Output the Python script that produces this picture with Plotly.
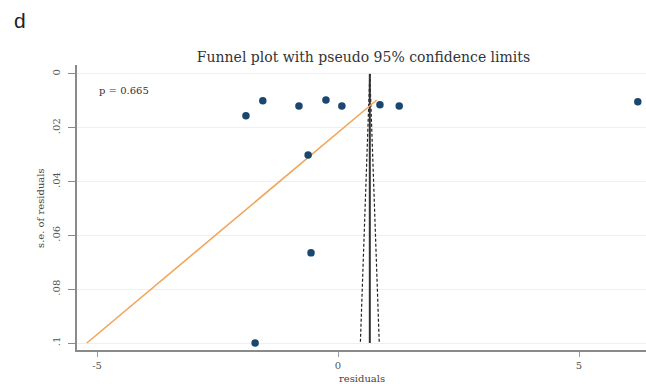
import plotly.graph_objects as go

# Study residuals and their standard errors
residuals = [-1.91, -1.56, -0.81, -0.25, 0.08, 0.87, 1.27, 6.22, -0.62, -0.56, -1.72]
se_residuals = [0.0156, 0.0100, 0.0119, 0.0097, 0.0119, 0.0115, 0.0119, 0.0104, 0.0301, 0.0665, 0.1000]

# Pooled estimate and Egger regression line (x = intercept + slope * se)
pooled = 0.66
egger_intercept = 1.45
egger_slope = -66.6
p_value = "0.665"

x_ticks = [-5, 0, 5]
x_ticktext = ["-5", "0", "5"]
y_ticks = [0, 0.02, 0.04, 0.06, 0.08, 0.1]
y_ticktext = ["0", ".02", ".04", ".06", ".08", ".1"]

SERIF = "DejaVu Serif"
se_max = max(se_residuals)
se_min = min(se_residuals)

fig = go.Figure()

# pseudo 95% confidence limits
se_line = [0, se_max]
fig.add_trace(go.Scatter(
    x=[pooled - 1.96 * s for s in se_line], y=se_line, mode="lines",
    line=dict(color="#222222", width=1.2, dash="3px,2px"), hoverinfo="skip"))
fig.add_trace(go.Scatter(
    x=[pooled + 1.96 * s for s in se_line], y=se_line, mode="lines",
    line=dict(color="#222222", width=1.2, dash="3px,2px"), hoverinfo="skip"))
# pooled estimate
fig.add_trace(go.Scatter(
    x=[pooled, pooled], y=se_line, mode="lines",
    line=dict(color="#333333", width=2), hoverinfo="skip"))
# Egger line
egger_se = [se_min, se_max]
fig.add_trace(go.Scatter(
    x=[egger_intercept + egger_slope * s for s in egger_se], y=egger_se, mode="lines",
    line=dict(color="#f2a55a", width=1.6), hoverinfo="skip"))
# studies
fig.add_trace(go.Scatter(
    x=residuals, y=se_residuals, mode="markers",
    marker=dict(color="#1a476f", size=7.5), hoverinfo="x+y"))

L, R, T, B = 77, 646, 65, 350
W, H = R - L, B - T


def px(x):
    return (x - L) / W


def py(y):
    return (B - y) / H


fig.update_layout(
    width=646, height=384,
    margin=dict(l=L, r=646 - R, t=T, b=384 - B),
    paper_bgcolor="white", plot_bgcolor="white",
    showlegend=False,
    title=dict(text="Funnel plot with pseudo 95% confidence limits",
               x=363.5 / 646, y=1 - 57 / 384, xanchor="center", yanchor="middle",
               font=dict(family=SERIF, size=14, color="#333333")),
    xaxis=dict(range=[-5.415, 6.39], tickvals=x_ticks, ticktext=x_ticktext,
               showgrid=False, zeroline=False, showline=True, linecolor="#8a8a8a",
               linewidth=2, ticks="outside", ticklen=5, tickcolor="#9a9a9a",
               tickfont=dict(family=SERIF, size=10, color="#555555")),
    yaxis=dict(range=[0.1026, -0.0033], tickvals=y_ticks, ticktext=y_ticktext,
               tickangle=-90, showgrid=True, gridcolor="#eaf1f3", gridwidth=1,
               zeroline=False, showline=True, linecolor="#8a8a8a", linewidth=2,
               ticks="outside", ticklen=7, tickcolor="#8a8a8a", ticklabelstandoff=4,
               tickfont=dict(family=SERIF, size=10, color="#555555")),
    annotations=[
        dict(text="d", xref="paper", yref="paper", x=px(20), y=py(21),
             showarrow=False, xanchor="center", yanchor="middle",
             font=dict(family="Liberation Sans", size=21, color="#222222")),
        dict(text="p = " + p_value, xref="paper", yref="paper", x=px(124), y=py(91),
             showarrow=False, xanchor="center", yanchor="middle",
             font=dict(family=SERIF, size=10, color="#333333")),
        dict(text="s.e. of residuals", xref="paper", yref="paper", x=px(40), y=py(208),
             textangle=-90, showarrow=False, xanchor="center", yanchor="middle",
             font=dict(family=SERIF, size=10, color="#444444")),
        dict(text="residuals", xref="paper", yref="paper", x=px(362), y=py(378),
             showarrow=False, xanchor="center", yanchor="middle",
             font=dict(family=SERIF, size=10, color="#444444")),
    ],
)

fig.write_html("out.html")
